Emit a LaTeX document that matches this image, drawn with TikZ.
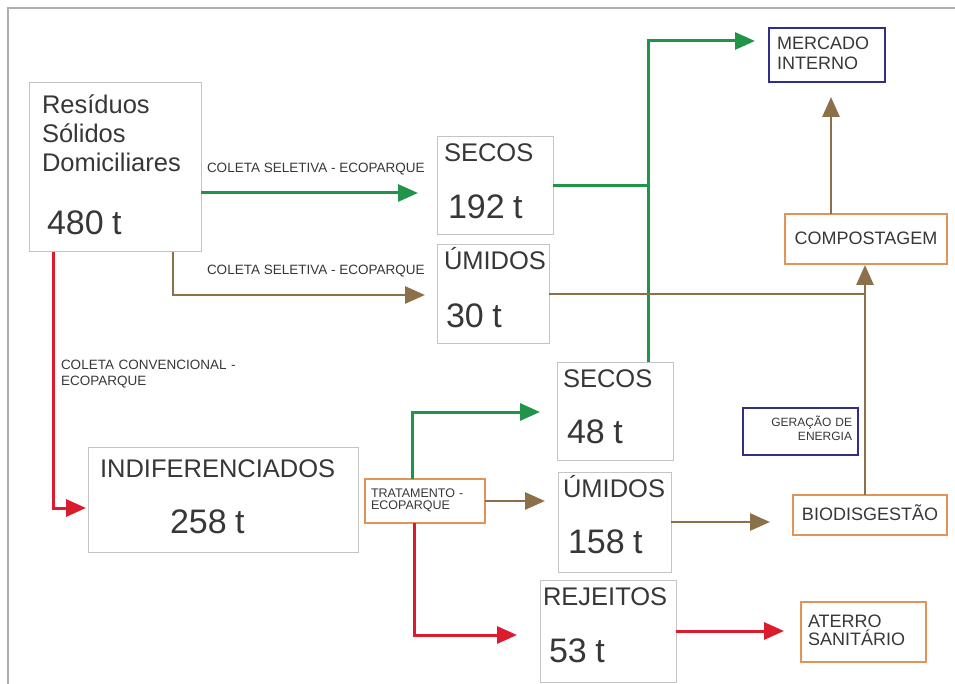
\documentclass[tikz,border=0pt]{standalone}
\usepackage{fontspec}
\setmainfont{Liberation Sans}
\usetikzlibrary{arrows.meta}

\definecolor{flowgreen}{RGB}{32,148,72}
\definecolor{flowbrown}{RGB}{140,112,74}
\definecolor{flowred}{RGB}{218,28,44}
\definecolor{boxgray}{RGB}{196,196,196}
\definecolor{boxorange}{RGB}{226,148,88}
\definecolor{boxblue}{RGB}{48,46,134}
\definecolor{inkgray}{RGB}{55,55,55}
\definecolor{framegray}{RGB}{175,175,175}

\newcommand{\lblsize}{\fontsize{25.5}{29}\selectfont}
\newcommand{\numsize}{\fontsize{34}{40}\selectfont}
\newcommand{\capsize}{\fontsize{18}{20}\selectfont}
\newcommand{\notesize}{\fontsize{13.5}{16}\selectfont}

\begin{document}
\begin{tikzpicture}[x=1pt,y=-1pt,>={Triangle[length=20pt,width=17pt]},
    box/.style={draw=boxgray,line width=1pt,anchor=north west,inner ysep=0pt,outer sep=0pt,align=left,text=inkgray,font=\lblsize},
    orangebox/.style={box,draw=boxorange,line width=2pt,font=\capsize},
    bluebox/.style={box,draw=boxblue,line width=2pt,font=\capsize},
    note/.style={inner sep=0pt,outer sep=0pt,text=inkgray,font=\notesize},
    greenflow/.style={draw=flowgreen,line width=3pt},
    brownflow/.style={draw=flowbrown,line width=2.8pt},
    redflow/.style={draw=flowred,line width=3pt}]
    \useasboundingbox (0,0) rectangle (955,684);
    \draw[framegray,line width=1.5pt] (8,684) -- (8,8) -- (955,8);

    \node[box,inner xsep=13pt,text width=146pt,text height=31pt,text depth=138pt] (res) at (29,83)
        {Resíduos\\Sólidos\\Domiciliares\\[34pt]\hspace*{5pt}{\numsize 480 t}};
    \node[box,inner xsep=7pt,text width=102pt,text height=25pt,text depth=73pt] (secA) at (437,137)
        {SECOS\\[28pt]\hspace*{4pt}{\numsize 192 t}};
    \node[box,inner xsep=7pt,text width=98pt,text height=25pt,text depth=73pt] (umA) at (437,245)
        {ÚMIDOS\\[29pt]\hspace*{2pt}{\numsize 30 t}};
    \node[box,inner xsep=12pt,text width=246pt,text height=30pt,text depth=75pt] (indif) at (88,447)
        {INDIFERENCIADOS\\[27pt]\hspace*{70pt}{\numsize 258 t}};
    \node[box,inner xsep=6pt,text width=104pt,text height=25pt,text depth=73pt] (secB) at (557,362)
        {SECOS\\[27pt]\hspace*{4pt}{\numsize 48 t}};
    \node[box,inner xsep=5pt,text width=103pt,text height=25pt,text depth=75pt] (umB) at (558,472)
        {ÚMIDOS\\[27pt]\hspace*{5pt}{\numsize 158 t}};
    \node[box,inner xsep=3pt,text width=130pt,text height=25pt,text depth=77pt] (rej) at (540,580)
        {REJEITOS\\[28pt]\hspace*{6pt}{\numsize 53 t}};

    \node[bluebox,inner xsep=8pt,text width=100pt,text height=22pt,text depth=32pt] (merc) at (769,28)
        {MERCADO\\INTERNO};
    \node[orangebox,inner xsep=4pt,text width=154pt,align=center,text height=31pt,text depth=19pt] (comp) at (785,214)
        {COMPOSTAGEM};
    \node[bluebox,inner xsep=6pt,text width=103pt,align=right,text height=18pt,text depth=29pt,
        font=\fontsize{12}{14}\selectfont] (ger) at (743,408) {GERAÇÃO DE\\ENERGIA};
    \node[orangebox,inner xsep=4pt,text width=146pt,align=center,text height=25pt,text depth=15pt] (bio) at (793,495)
        {BIODISGESTÃO};
    \node[orangebox,inner xsep=7pt,text width=111pt,text height=25pt,text depth=35pt,
        font=\fontsize{18}{18}\selectfont] (ater) at (801,602) {ATERRO\\SANITÁRIO};
    \node[orangebox,inner xsep=6pt,text width=108pt,text height=18pt,text depth=26pt,
        font=\fontsize{12.5}{12}\selectfont] (trat) at (365,479) {TRATAMENTO -\\ECOPARQUE};

    \node[note,anchor=base west] (sel1) at (207,173) {COLETA SELETIVA - ECOPARQUE};
    \node[note,anchor=base west] (sel2) at (207,275) {COLETA SELETIVA - ECOPARQUE};
    \node[note,anchor=north west,align=left,text width=200pt,text height=10pt] (conv) at (61,359)
        {COLETA CONVENCIONAL -\\ECOPARQUE};

    \coordinate (g1) at (418,193);
    \coordinate (b1) at (173,295);
    \coordinate (r1) at (53,508);
    \coordinate (g2) at (412,412);
    \coordinate (r2) at (414,635);
    \coordinate (gtop) at (648,41);
    \coordinate (b2) at (865,295);
    \coordinate (b3) at (831,0);

    \draw[greenflow,->,shorten >=19pt] (res.east |- g1) -- (secA.west |- g1);
    \draw[brownflow,->,shorten >=12pt] (b1 |- res.south) -- (b1) -- (umA.west |- b1);
    \draw[redflow,->,shorten >=2pt] (r1 |- res.south) -- (r1) -- (indif.west |- r1);

    \draw[greenflow] (secA.east) -- (gtop |- secA.east);
    \draw[greenflow,->,shorten >=14pt] (gtop |- secB.north) -- (gtop) -- (merc.west |- gtop);
    \draw[brownflow] (umA.east) -- (b2 |- umA.east);
    \draw[brownflow,->,shorten >=1pt] (b2 |- bio.north) -- (b2 |- comp.south);
    \draw[brownflow,->,shorten >=15pt] (b3 |- comp.north) -- (b3 |- merc.south);

    \draw[greenflow,->,shorten >=17pt] (g2 |- trat.north) -- (g2) -- (secB.west |- g2);
    \draw[brownflow,->,shorten >=13pt] (trat.east) -- (umB.west |- trat.east);
    \draw[redflow,->,shorten >=23pt] (r2 |- trat.south) -- (r2) -- (rej.west |- r2);

    \draw[brownflow,->,shorten >=23pt] (umB.east) -- (bio.west |- umB.east);
    \draw[redflow,->,shorten >=17pt] (rej.east) -- (ater.west |- rej.east);
\end{tikzpicture}
\end{document}
